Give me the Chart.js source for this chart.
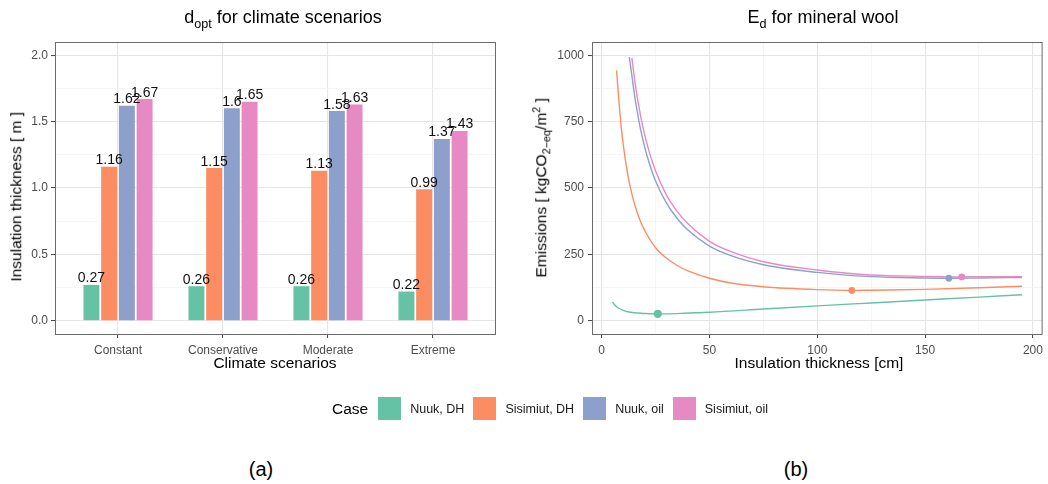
<!DOCTYPE html>
<html>
<head>
<meta charset="utf-8">
<title>d_opt and E_d</title>
<script src="https://cdn.jsdelivr.net/npm/chart.js@4.4.1/dist/chart.umd.min.js"></script>
<style>
  html, body { margin: 0; background: #fff; }
  #page { position: relative; width: 1048px; height: 484px; overflow: hidden;
          font-family: "Liberation Sans", Arial, sans-serif; color: #000; }
  canvas { position: absolute; top: 0; }
  .txt { position: absolute; white-space: nowrap; line-height: 1; text-align: center; }
  .ttl { font-size: 18px; }
  .axt { font-size: 15.5px; }
  .rot { transform: rotate(-90deg); }
  .cap { font-size: 20px; }
  sub, sup { font-size: 0.7em; line-height: 0; }
  #legend { position: absolute; left: 332px; top: 397px; height: 23px; display: flex; align-items: center; }
  #legend .case { font-size: 15.5px; margin-right: 10px; }
  #legend .sw { width: 23px; height: 23px; margin-right: 9px; }
  #legend .lab { font-size: 12.5px; margin-right: 9px; color: #1a1a1a; }
</style>
</head>
<body>
<div id="page">
  <canvas id="barChart" width="530" height="400" style="left:0"></canvas>
  <canvas id="lineChart" width="518" height="400" style="left:530px"></canvas>

  <div class="txt ttl" style="left:0;width:566px;top:8px">d<sub>opt</sub> for climate scenarios</div>
  <div class="txt ttl" style="left:598px;width:450px;top:8px">E<sub>d</sub> for mineral wool</div>

  <div class="txt axt" style="left:125px;width:300px;top:355px">Climate scenarios</div>
  <div class="txt axt" style="left:669px;width:300px;top:355px">Insulation thickness [cm]</div>
  <div class="txt axt rot" style="left:-134px;width:300px;top:189px">Insulation thickness [ m ]</div>
  <div class="txt axt rot" style="left:391px;width:300px;top:180px">Emissions [ kgCO<sub>2−eq</sub>/m<sup>2</sup> ]</div>

  <div id="legend"></div>

  <div class="txt cap" style="left:211px;width:100px;top:459px">(a)</div>
  <div class="txt cap" style="left:746px;width:100px;top:459px">(b)</div>
</div>

<script>
// (a) ความหนาฉนวนที่เหมาะสม [m] ต่อสถานการณ์ภูมิอากาศ
const scenarios = ['Constant', 'Conservative', 'Moderate', 'Extreme'];
const cases = ['Nuuk, DH', 'Sisimiut, DH', 'Nuuk, oil', 'Sisimiut, oil'];
const caseColors = ['#66c2a5', '#fc8d62', '#8da0cb', '#e78ac3'];

const doptNuukDH = [0.27, 0.26, 0.26, 0.22];
const doptSisimiutDH = [1.16, 1.15, 1.13, 0.99];
const doptNuukOil = [1.62, 1.60, 1.58, 1.37];
const doptSisimiutOil = [1.67, 1.65, 1.63, 1.43];

// (b) การปล่อยก๊าซ [kgCO2-eq/m2] เทียบความหนาฉนวน [cm] — ค่าที่อ่านจากกราฟ
const thickNuukDH = [5, 6, 7, 8, 10, 12, 15, 17, 20, 26, 30, 40, 50, 75, 100, 125, 150, 175, 195];
const emisNuukDH = [71, 60, 52, 47, 39, 34, 30, 29, 27, 26, 26, 29, 32, 44, 56, 67, 78, 89, 98];

const thickSisimiutDH = [6.9, 8, 9, 10, 12, 14, 16, 18, 20, 25, 30, 35, 40, 50, 60, 75, 100, 116, 125, 150, 175, 195];
const emisSisimiutDH = [943, 826, 735, 663, 554, 477, 419, 374, 339, 275, 236, 208, 188, 160, 142, 128, 117, 114, 115, 118, 124, 130];

const thickNuukOil = [12.8, 14, 15, 16, 18, 20, 22, 25, 30, 35, 40, 50, 60, 75, 100, 125, 150, 161, 175, 195];
const emisNuukOil = [993, 923, 863, 810, 722, 652, 595, 526, 444, 385, 342, 281, 245, 211, 182, 166, 161, 160, 161, 163];

const thickSisimiutOil = [14, 15, 16, 18, 20, 22, 25, 30, 35, 40, 50, 60, 75, 100, 125, 150, 167, 175, 195];
const emisSisimiutOil = [990, 925, 868, 774, 698, 637, 564, 474, 412, 365, 299, 260, 222, 191, 172, 167, 165, 166, 166];

// จุดต่ำสุด (d_opt) ของแต่ละกรณี
const optThick = [26, 116, 161, 167];
const optEmis = [26, 114, 160, 165];

// tick หลักของแกน
const barYTicks = [0, 0.5, 1, 1.5, 2];
const emisYTicks = [0, 250, 500, 750, 1000];
const thickXTicks = [0, 50, 100, 150, 200];

const FONT = '"Liberation Sans", Arial, sans-serif';
const TICK_TXT = '#4d4d4d';

// เส้นกริดรอง (minor) อยู่กึ่งกลางระหว่าง tick หลักแบบ ggplot
function withMinor(major) {
  const out = [];
  major.forEach((v, i) => {
    if (i > 0) out.push({ value: (major[i - 1] + v) / 2, minor: true });
    out.push({ value: v });
  });
  return out;
}

function linearAxis(min, max, buildTicks, fmt, pad) {
  const isMinor = c => c.tick && c.tick.minor;
  return {
    type: 'linear', min, max, offset: false,
    afterBuildTicks: s => { s.ticks = buildTicks(); },
    grid: {
      offset: false,
      color: c => isMinor(c) ? '#f1f1f1' : '#e6e6e6',
      lineWidth: c => isMinor(c) ? 0.7 : 1.1,
      tickColor: c => isMinor(c) ? 'rgba(0,0,0,0)' : '#444',
      tickWidth: 1,
      tickLength: 4
    },
    border: { display: false },
    ticks: {
      color: TICK_TXT, font: { family: FONT, size: 12 }, padding: pad,
      maxRotation: 0, autoSkip: false,
      callback: (v, i, t) => t[i].minor ? '' : fmt(v)
    }
  };
}

const fixWidth = w => s => { s.width = w; };
const fixHeight = h => s => { s.height = h; };

const panelBorder = {
  id: 'panelBorder',
  afterDraw(chart) {
    const { left, top, right, bottom } = chart.chartArea;
    const ctx = chart.ctx;
    ctx.save();
    ctx.strokeStyle = '#6b6b6b';
    ctx.lineWidth = 1;
    ctx.strokeRect(left + 0.5, top + 0.5, right - left - 1, bottom - top);
    ctx.restore();
  }
};

const barValueLabels = {
  id: 'barValueLabels',
  afterDatasetsDraw(chart) {
    const ctx = chart.ctx;
    ctx.save();
    ctx.font = '14px ' + FONT;
    ctx.fillStyle = '#111';
    ctx.textAlign = 'center';
    ctx.textBaseline = 'alphabetic';
    chart.data.datasets.forEach((ds, di) => {
      chart.getDatasetMeta(di).data.forEach((bar, j) =>
        ctx.fillText(String(ds.data[j].y), bar.x, bar.y - 2.5));
    });
    ctx.restore();
  }
};

const doptSeries = [doptNuukDH, doptSisimiutDH, doptNuukOil, doptSisimiutOil];

new Chart(document.getElementById('barChart'), {
  type: 'bar',
  data: {
    datasets: doptSeries.map((vals, i) => ({
      label: cases[i],
      data: vals.map((v, j) => ({ x: j + 1, y: v })),
      backgroundColor: caseColors[i],
      borderWidth: 0,
      categoryPercentage: 0.675,
      barPercentage: 0.9
    }))
  },
  options: {
    responsive: false, animation: false, devicePixelRatio: 1,
    layout: { padding: { left: 0, right: 34, top: 42, bottom: 36 } },
    plugins: { legend: { display: false }, tooltip: { enabled: false } },
    scales: {
      x: Object.assign(linearAxis(0.4, 4.6, () => scenarios.map((_, i) => ({ value: i + 1 })),
        v => scenarios[v - 1], 5), { afterFit: fixHeight(30) }),
      y: Object.assign(linearAxis(-0.1, 2.1, () => withMinor(barYTicks),
        v => v.toFixed(1), 3), { afterFit: fixWidth(55) })
    }
  },
  plugins: [barValueLabels, panelBorder]
});

const curveX = [thickNuukDH, thickSisimiutDH, thickNuukOil, thickSisimiutOil];
const curveY = [emisNuukDH, emisSisimiutDH, emisNuukOil, emisSisimiutOil];
const optRadius = [4.2, 3.4, 3.4, 3.4];

const lineSets = curveX.map((xs, i) => ({
  label: cases[i],
  data: xs.map((x, j) => ({ x, y: curveY[i][j] })),
  borderColor: caseColors[i],
  borderWidth: 1.4,
  pointRadius: 0,
  cubicInterpolationMode: 'monotone',
  fill: false,
  order: 8 - i
}));
const pointSets = optThick.map((x, i) => ({
  label: cases[i] + ' opt',
  data: [{ x, y: optEmis[i] }],
  showLine: false,
  pointRadius: optRadius[i],
  pointBorderWidth: 0,
  pointBackgroundColor: caseColors[i],
  order: 4 - i
}));

new Chart(document.getElementById('lineChart'), {
  type: 'line',
  data: { datasets: lineSets.concat(pointSets) },
  options: {
    responsive: false, animation: false, devicePixelRatio: 1,
    layout: { padding: { left: 0, right: 1, top: 42, bottom: 36 } },
    plugins: { legend: { display: false }, tooltip: { enabled: false } },
    scales: {
      x: Object.assign(linearAxis(-4.5, 204.5, () => withMinor(thickXTicks),
        v => String(v), 5), { afterFit: fixHeight(30) }),
      y: Object.assign(linearAxis(-50, 1050, () => withMinor(emisYTicks),
        v => String(v), 4), { afterFit: fixWidth(62) })
    }
  },
  plugins: [panelBorder]
});

// คำอธิบายสัญลักษณ์ร่วมของทั้งสองกราฟ
document.getElementById('legend').innerHTML = '<span class="case">Case</span>' +
  cases.map((c, i) => `<span class="sw" style="background:${caseColors[i]}"></span><span class="lab">${c}</span>`).join('');
</script>
</body>
</html>
